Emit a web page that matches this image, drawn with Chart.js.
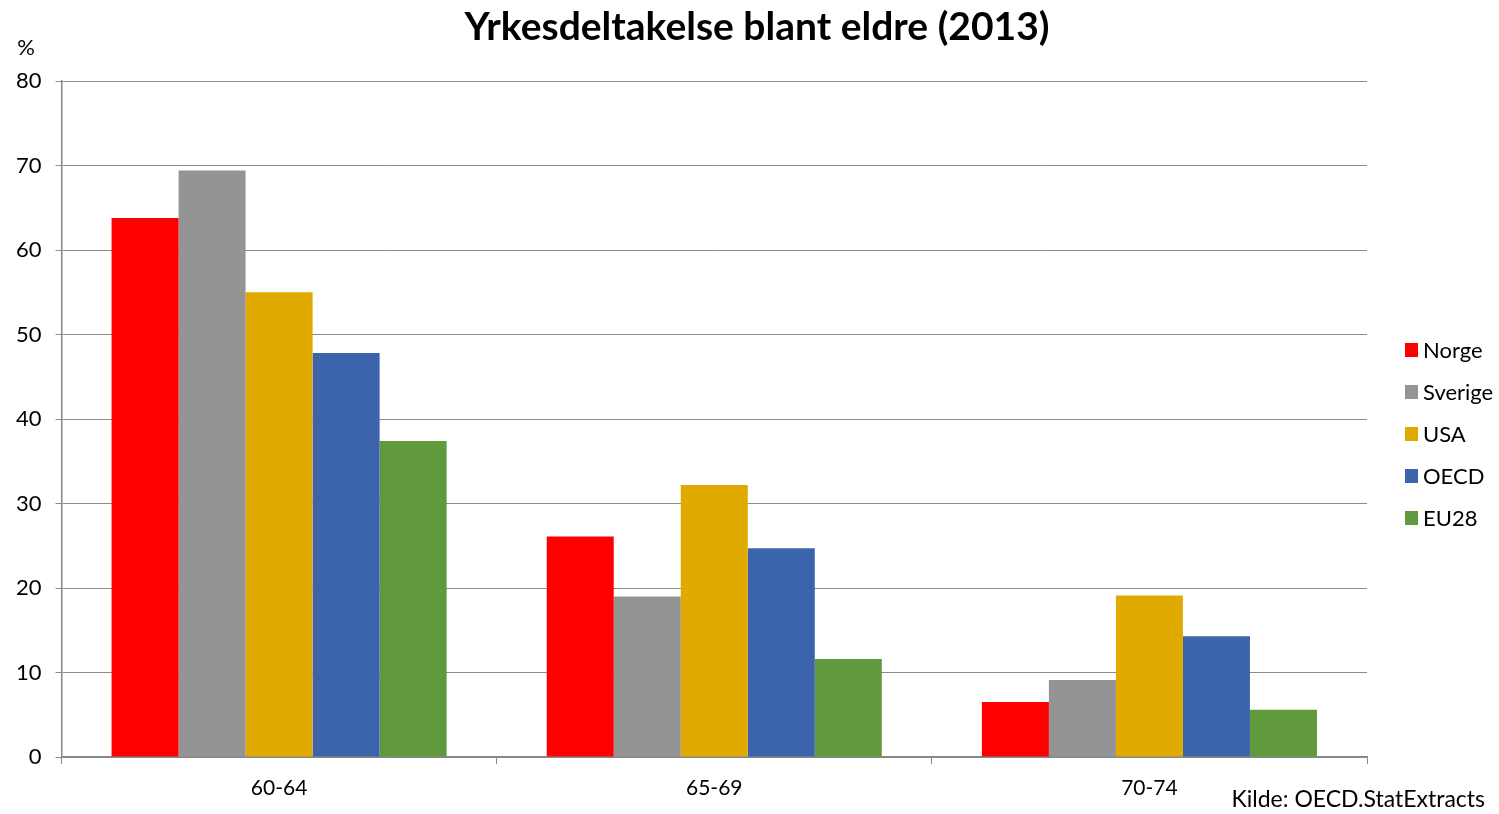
<!DOCTYPE html>
<html>
<head>
<meta charset="utf-8">
<script src="https://cdn.jsdelivr.net/npm/chart.js@4.4.1/dist/chart.umd.min.js"></script>
<style>
  html, body { margin: 0; padding: 0; background: #fff; }
  #wrap { width: 1499px; height: 814px; position: relative; }
</style>
</head>
<body>
<div id="wrap"><canvas id="chart"></canvas></div>
<script>
const categories = ['60-64', '65-69', '70-74'];
const seriesNames = ['Norge', 'Sverige', 'USA', 'OECD', 'EU28'];
const norge = [63.8, 26.1, 6.5];
const sverige = [69.4, 19.0, 9.1];
const usa = [55.0, 32.2, 19.1];
const oecd = [47.8, 24.7, 14.3];
const eu28 = [37.4, 11.6, 5.6];
const colors = ['#ff0000', '#949494', '#e1aa00', '#3b64ad', '#619a3d'];

const FONT = 'Lato, "Open Sans", sans-serif';

// title over the whole page, legend on the right, "%" and source note
const extraText = {
    id: 'extraText',
    afterDraw(chart) {
        const { ctx } = chart;
        ctx.save();
        ctx.fillStyle = '#000';
        ctx.textBaseline = 'middle';
        ctx.textAlign = 'center';
        ctx.font = 'bold 39px ' + FONT;
        ctx.fillText('Yrkesdeltakelse blant eldre (2013)', 757, 27);

        ctx.font = '22px ' + FONT;
        ctx.fillText('%', 26, 48);

        chart.data.datasets.forEach((ds, i) => {
            const y = 350 + i * 42;
            ctx.fillStyle = ds.backgroundColor;
            ctx.fillRect(1405, y - 7, 13, 14);
            ctx.fillStyle = '#000';
            ctx.textAlign = 'left';
            ctx.fillText(ds.label, 1423, y + 1);
        });

        ctx.font = '23px ' + FONT;
        ctx.textAlign = 'right';
        ctx.fillText('Kilde: OECD.StatExtracts', 1485, 800);
        ctx.restore();
    },
};

const values = [norge, sverige, usa, oecd, eu28];

new Chart(document.getElementById('chart'), {
    type: 'bar',
    data: {
        labels: categories,
        datasets: seriesNames.map((name, i) => ({
            label: name,
            data: values[i],
            backgroundColor: colors[i],
            borderWidth: 0,
            categoryPercentage: 0.77,
            barPercentage: 1.0,
        })),
    },
    options: {
        responsive: true,
        maintainAspectRatio: false,
        animation: false,
        layout: { padding: { left: 2, right: 132, top: 81, bottom: 1 } },
        plugins: {
            title: { display: false },
            legend: { display: false },
            tooltip: { enabled: false },
        },
        scales: {
            x: {
                offset: true,
                grid: {
                    offset: true,
                    drawOnChartArea: false,
                    color: '#868686',
                    tickLength: 7,
                },
                border: { color: '#868686', width: 1.5 },
                ticks: {
                    color: '#000',
                    font: { family: FONT, size: 21, lineHeight: 1.0 },
                    padding: 14,
                },
            },
            y: {
                min: 0,
                max: 80,
                ticks: {
                    stepSize: 10,
                    color: '#000',
                    font: { family: FONT, size: 22 },
                    padding: 14,
                },
                grid: {
                    color: '#8c8c8c',
                    lineWidth: 1,
                    tickLength: 6,
                },
                border: { color: '#868686', width: 1.5 },
            },
        },
    },
    plugins: [extraText],
});
</script>
</body>
</html>
